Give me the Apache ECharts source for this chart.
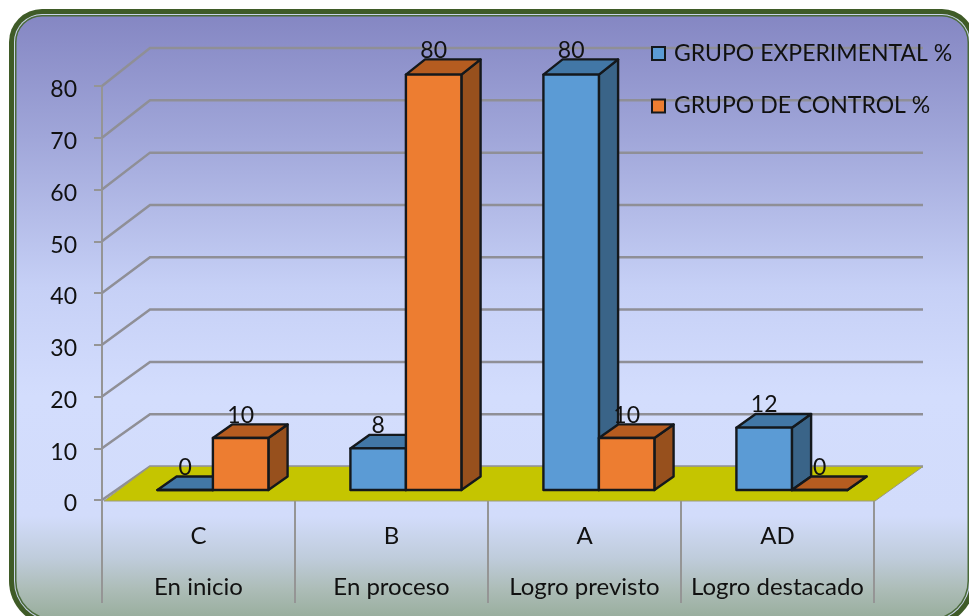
<!DOCTYPE html>
<html>
<head>
<meta charset="utf-8">
<style>
html,body{margin:0;padding:0;background:#fff;}
#c{width:969px;height:616px;filter:blur(0.45px);}
</style>
<script src="https://cdn.jsdelivr.net/npm/echarts@6/dist/echarts.min.js"></script>
</head>
<body>
<div id="c"></div>
<script>
// data
const grades = ['C', 'B', 'A', 'AD'];
const levels = ['En inicio', 'En proceso', 'Logro previsto', 'Logro destacado'];
const experimental = [0, 8, 80, 12];
const control = [10, 80, 10, 0];
const yTicks = [0, 10, 20, 30, 40, 50, 60, 70, 80];

// 3D projection parameters
const DX = 48, DY0 = 33.5, DY80 = 38, F1 = 0.3, F2 = 0.7, BARW = 0.2875;
const FONT = 'Lato';
function project(api, cat, v, f, xShift) {
  const p = api.coord([cat, v]);
  const dy = DY0 + (DY80 - DY0) * v / 80;
  return [p[0] + (xShift || 0) + f * DX, p[1] - f * dy];
}
function barRenderer(side, front, top, sideCol) {
  return function (params, api) {
    const cat = api.value(0), v = api.value(1);
    const w = api.size([1, 0])[0] * BARW;
    const x0 = side * w, x1 = x0 + w;
    const a = project(api, cat, 0, F1, x0), b = project(api, cat, 0, F1, x1);
    const c = project(api, cat, v, F1, x1), d = project(api, cat, v, F1, x0);
    const e = project(api, cat, v, F2, x0), g = project(api, cat, v, F2, x1);
    const h = project(api, cat, 0, F2, x1);
    const line = { stroke: '#14181c', lineWidth: 2.4, lineJoin: 'round' };
    const poly = (pts, fill) => ({ type: 'polygon', shape: { points: pts }, style: Object.assign({ fill }, line) });
    const children = [
      poly([b, c, g, h], sideCol),
      poly([d, c, g, e], top),
      poly([a, b, c, d], front),
      { type: 'text', style: { text: String(v), x: (d[0] + c[0]) / 2, y: e[1] - 9, align: 'center', verticalAlign: 'middle',
        font: '23px ' + FONT, fill: '#111' } }
    ];
    return { type: 'group', children };
  };
}
function seriesBar(name, values, side, front, top, sideCol) {
  return {
    type: 'custom', name, z: 5,
    coordinateSystem: 'cartesian2d',
    encode: { x: 0, y: 1 },
    data: values.map((v, i) => [i, v]),
    itemStyle: { color: front, borderColor: '#14181c', borderWidth: 2 },
    renderItem: barRenderer(side, front, top, sideCol)
  };
}
const C = echarts.graphic.LinearGradient;
const chart = echarts.init(document.getElementById('c'), null, { renderer: 'canvas' });
chart.setOption({
  animation: false,
  backgroundColor: '#fff',
  graphic: [
    { type: 'rect', z: -10, shape: { x: 9, y: 9, width: 966, height: 617, r: [33, 33, 45, 45] }, style: { fill: '#3f5b27' } },
    { type: 'rect', z: -9, shape: { x: 14, y: 14, width: 956, height: 607, r: [28, 28, 40, 40] }, style: { fill: '#c9d3ea' } },
    { type: 'rect', z: -8, shape: { x: 15, y: 15, width: 954, height: 605, r: [27, 27, 39, 39] }, style: { fill: '#4a6a3a' } },
    { type: 'rect', z: -7, shape: { x: 16.5, y: 16.5, width: 951, height: 602, r: [25.5, 25.5, 37.5, 37.5] },
      style: { fill: new C(0, 0, 0, 1, [
        { offset: 0, color: '#8587c3' },
        { offset: 0.2, color: '#a0a6d9' },
        { offset: 0.45, color: '#c6d0f6' },
        { offset: 0.63, color: '#d3ddfd' },
        { offset: 0.83, color: '#d2dcfb' },
        { offset: 0.9, color: '#bfccdb' },
        { offset: 0.95, color: '#adbdb8' },
        { offset: 1, color: '#98ad9c' }
      ]) } }
  ],
  grid: { left: 102, right: 95, top: 86, bottom: 116, containLabel: false },
  legend: {
    left: 651, top: 42, padding: 0, orient: 'vertical', itemGap: 29.5, itemWidth: 13, itemHeight: 13, icon: 'rect',
    selectedMode: false,
    data: ['GRUPO EXPERIMENTAL %', 'GRUPO DE CONTROL %'],
    textStyle: { fontFamily: FONT, fontSize: 23, color: '#111', padding: [0, 0, 0, 4] }
  },
  xAxis: {
    type: 'category', data: grades, boundaryGap: true,
    axisLine: { show: false },
    axisTick: { show: true, length: 103, lineStyle: { color: '#959595', width: 2 } },
    axisLabel: {
      margin: 11, interval: 0, lineHeight: 51, fontFamily: FONT, fontSize: 24, color: '#111',
      formatter: (v, i) => v + '\n' + levels[i]
    }
  },
  yAxis: {
    type: 'value', min: 0, max: 80, interval: 10,
    axisLine: { show: true, lineStyle: { color: '#959595', width: 2 } },
    axisTick: { show: true, length: 8, lineStyle: { color: '#959595', width: 2 } },
    splitLine: { show: false },
    axisLabel: { margin: 25, fontFamily: FONT, fontSize: 23, color: '#111', verticalAlign: 'top', lineHeight: 8 }
  },
  series: [
    {
      type: 'custom', name: 'pared', z: 1, silent: true, coordinateSystem: 'cartesian2d',
      encode: { y: 0 }, data: yTicks.map(v => [v]),
      renderItem(params, api) {
        const v = api.value(0), cs = params.coordSys;
        const f = api.coord([0, v]);
        const dy = DY0 + (DY80 - DY0) * v / 80;
        return { type: 'polyline',
          shape: { points: [[cs.x, f[1]], [cs.x + DX, f[1] - dy], [cs.x + cs.width + DX + 1, f[1] - dy]] },
          style: { stroke: '#8f8f96', lineWidth: 2.5, fill: null } };
      }
    },
    {
      type: 'custom', name: 'piso', z: 2, silent: true, coordinateSystem: 'cartesian2d',
      encode: { y: 0 }, data: [[0]],
      renderItem(params, api) {
        const cs = params.coordSys, y = api.coord([0, api.value(0)])[1];
        return { type: 'polygon',
          shape: { points: [[cs.x + 2, y + 1], [cs.x + cs.width + 1, y + 1], [cs.x + cs.width + DX + 1, y - DY0], [cs.x + DX, y - DY0]] },
          style: { fill: '#c5c500', stroke: '#9a9a80', lineWidth: 1 } };
      }
    },
    seriesBar('GRUPO EXPERIMENTAL %', experimental, -1, '#5b9bd5', '#4277a6', '#3a6488'),
    seriesBar('GRUPO DE CONTROL %', control, 0, '#ed7d31', '#b55c20', '#97501d')
  ]
});
</script>
</body>
</html>
